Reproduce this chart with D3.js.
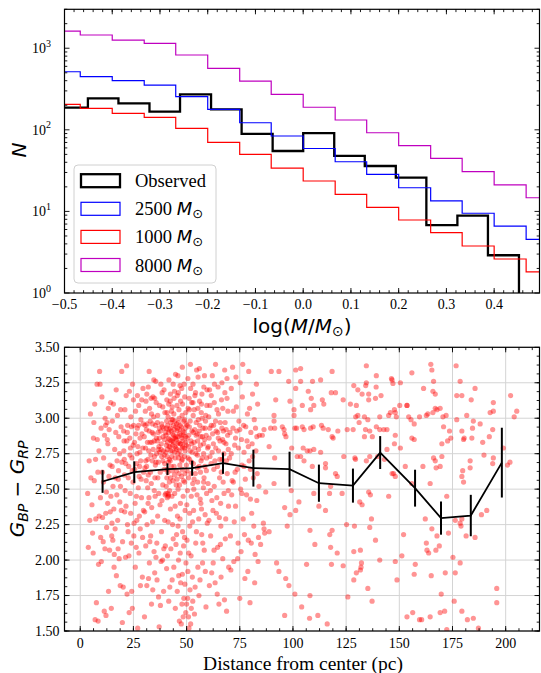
<!DOCTYPE html>
<html>
<head>
<meta charset="utf-8">
<script src="https://cdn.jsdelivr.net/npm/d3@7"></script>
<style>
  body { margin: 0; background: #fff; }
  svg { display: block; }
</style>
</head>
<body>
<svg id="fig"></svg>
<script>
// ---- top panel: mass function histograms ----
const modelEdges = [-0.533,-0.467,-0.4,-0.333,-0.267,-0.2,-0.133,-0.067,0,0.067,0.133,0.2,0.267,0.333,0.4,0.467,0.533];
const obsEdges = [-0.516,-0.451,-0.387,-0.322,-0.258,-0.193,-0.129,-0.064,0.0,0.065,0.129,0.194,0.258,0.323,0.387,0.452];
const observed = [187,243,211,167,272,178,89,55,91,48,36,26,6.8,8.9,2.9];
const m2500 = [515,448,400,354,255,178,122,84,59,40.6,28.5,19.5,13.5,9.5,6.6,4.55];
const m1000 = [205,183,159,142,104,70,50,34,23.6,16.2,11.2,7.85,5.48,3.77,2.61,1.82];
const m8000 = [1625,1452,1260,1150,826,567,396,272,189,132,92,64,44.7,30.7,21.1,14.7];
const histTicks = [-0.5,-0.4,-0.3,-0.2,-0.1,0.0,0.1,0.2,0.3,0.4];
const histTickLabels = ['\u22120.5','\u22120.4','\u22120.3','\u22120.2','\u22120.1','0.0','0.1','0.2','0.3','0.4'];
const logTicks = [1,10,100,1000];

// ---- bottom panel: colour vs distance ----
const binDist = [10.5,25.4,41.0,52.6,67.1,81.4,98.4,112.2,128.2,141.0,157.4,169.6,183.6,198.2];
const binColor = [2.554,2.62,2.641,2.648,2.683,2.648,2.641,2.542,2.525,2.758,2.507,2.296,2.314,2.687];
const binErr = [0.08,0.076,0.041,0.053,0.075,0.13,0.123,0.131,0.12,0.116,0.13,0.117,0.146,0.246];
const distTicks = [0,25,50,75,100,125,150,175,200];
const colorTicks = [1.5,1.75,2.0,2.25,2.5,2.75,3.0,3.25,3.5];

// stars, [distance pc, G_BP - G_RP]
const starsNear = [
[3.5,2.47],[4.2,2.70],[4.8,3.03],[5.5,2.39],[5.8,2.19],[6.1,2.05],[6.4,2.97],[6.8,3.10],[7.0,1.58],[7.3,2.29],[7.6,1.70],[8.0,2.85],[8.3,2.62],[8.6,1.97],[8.9,2.31],[9.1,3.33],[9.3,3.24],[9.6,2.16],[9.9,1.99],[5.0,2.58],[3.8,2.09],[6.6,2.56],[7.9,3.24],[8.8,2.77],[9.5,2.44],[4.5,2.28],[7.2,2.71],[9.8,2.93],[6.2,2.86],[8.4,1.57],
[10.2,3.15],[10.5,2.30],[10.8,2.13],[11.0,2.72],[11.3,1.64],[11.6,2.08],[11.9,2.95],[12.1,1.61],[12.4,2.23],[12.7,2.85],[12.9,2.40],[13.2,3.07],[13.5,2.59],[13.8,2.07],[14.0,2.67],[14.3,3.11],[14.6,1.66],[14.8,2.17],[15.1,2.98],[15.4,2.52],[15.6,3.10],[15.9,1.95],[16.2,2.78],[16.4,2.22],[16.7,2.90],[17.0,1.89],[17.2,2.46],[17.5,3.02],[17.8,2.08],[18.0,2.63],[18.3,2.01],[18.5,2.75],[18.8,1.82],[19.0,3.06],[19.3,2.35],[19.5,3.33],[19.8,1.56],[10.9,2.55],[11.7,3.00],[12.3,2.48],[13.0,2.82],[13.6,2.92],[14.4,2.45],[15.0,2.66],[15.8,2.36],[16.5,2.58],[17.3,2.70],[18.1,2.87],[18.9,2.52],[19.6,2.69],[10.4,2.62],[12.0,2.33],[14.9,2.26],[16.0,2.04],[17.6,2.28],[19.2,2.94],[11.4,2.88],[13.3,1.78],[15.3,2.14],[16.9,3.20],[18.6,2.41],[12.6,2.97],[17.9,2.57],[19.9,2.13],[14.1,2.34],
[20.2,1.81],[20.5,2.77],[20.8,2.60],[21.0,3.06],[21.3,2.02],[21.5,2.38],[21.8,3.37],[22.0,1.76],[22.3,2.95],[22.5,2.20],[22.8,2.66],[23.0,1.63],[23.3,2.86],[23.5,2.47],[23.8,3.01],[24.0,2.12],[24.3,2.72],[24.5,1.66],[24.8,2.55],[25.0,3.13],[25.3,2.26],[25.5,2.83],[25.8,2.40],[26.0,3.05],[26.3,2.09],[26.5,2.68],[26.8,2.93],[27.0,1.52],[27.3,2.51],[27.5,3.09],[27.8,2.31],[28.0,2.76],[28.3,1.82],[28.5,2.99],[28.8,2.44],[29.0,2.89],[29.3,2.16],[29.5,3.21],[29.8,2.62],[20.4,2.91],[21.1,2.49],[21.9,2.84],[22.6,2.58],[23.4,2.74],[24.1,2.94],[24.9,2.81],[25.6,2.64],[26.2,2.89],[27.1,2.80],[27.9,2.66],[28.6,2.57],[29.4,2.79],[20.9,2.34],[22.2,2.25],[23.7,2.33],[25.2,2.17],[26.6,2.28],[28.2,2.22],[29.7,2.35],[21.6,3.16],[23.1,3.19],[24.6,3.24],[26.9,3.16],[28.9,3.13],[22.9,2.03],[25.9,1.95],[27.6,2.05],[29.2,1.88],[24.2,1.78],[26.4,2.45],[28.4,2.70],[20.7,2.71],[27.4,2.95],
[20.6,2.84],[22.1,2.90],[23.6,2.79],[25.1,2.95],[26.7,2.75],[28.1,2.86],[29.6,2.96],[21.4,2.68],[24.4,2.63],[27.7,2.59],
[30.1,2.87],[30.3,2.34],[30.6,3.05],[30.8,2.10],[31.0,2.56],[31.3,1.82],[31.5,2.96],[31.8,2.71],[32.0,3.22],[32.3,2.44],[32.5,1.98],[32.8,2.83],[33.0,2.62],[33.3,3.14],[33.5,1.69],[33.8,2.90],[34.0,2.27],[34.3,2.78],[34.5,3.01],[34.8,2.49],[35.0,1.91],[35.3,2.67],[35.5,3.26],[35.8,2.86],[36.0,2.12],[36.3,2.97],[36.5,2.58],[36.8,1.74],[37.0,2.80],[37.3,3.09],[37.5,2.39],[37.8,2.91],[38.0,1.99],[38.3,2.73],[38.5,3.18],[38.8,2.53],[39.0,2.87],[39.3,2.08],[39.5,2.64],[39.8,3.04],[30.4,2.65],[31.1,2.92],[31.7,2.51],[32.2,2.77],[32.9,2.98],[33.4,2.54],[33.9,2.70],[34.4,2.89],[34.9,2.73],[35.4,2.95],[35.9,2.75],[36.2,2.84],[36.7,2.69],[37.2,2.93],[37.6,2.62],[38.1,2.82],[38.6,2.94],[39.1,2.77],[39.6,2.85],[30.9,3.12],[32.6,3.07],[34.2,3.15],[35.7,3.11],[37.9,3.24],[39.4,3.20],[31.4,2.25],[33.1,2.17],[34.7,2.06],[36.4,2.31],[38.2,2.20],[39.7,2.28],[30.2,1.60],[32.1,1.87],[34.1,1.79],[36.1,1.86],[37.7,1.68],[39.2,1.78],[31.9,2.40],[33.6,2.37],[35.2,2.45],[36.9,2.47],[38.4,2.42],[39.9,2.46],[30.7,2.79],[33.7,2.83],[36.6,2.90],[38.9,2.70],[31.2,2.66],[35.1,2.58],[37.4,2.76],[39.3,2.93],[32.4,3.33],[34.6,3.27],[37.1,1.53],[38.7,2.00],[35.6,2.02],[32.7,2.13],
[30.5,2.95],[31.6,2.83],[32.4,2.91],[33.2,2.74],[34.0,2.96],[34.8,2.84],[35.6,2.69],[36.4,3.02],[37.2,2.86],[38.0,2.78],[38.8,3.08],[39.5,2.74],[30.8,2.70],[32.0,2.60],[33.5,3.03],[35.0,3.14],[36.8,2.78],[38.3,2.96],[39.7,2.68],[31.3,3.17],
[40.1,2.90],[40.3,2.47],[40.5,2.81],[40.7,3.13],[40.9,2.64],[41.1,2.95],[41.3,2.27],[41.5,2.86],[41.7,3.27],[41.9,2.71],[42.1,1.81],[42.3,2.93],[42.5,2.58],[42.7,2.84],[42.9,3.05],[43.1,2.45],[43.3,2.77],[43.5,2.99],[43.7,2.15],[43.9,2.88],[44.1,2.66],[44.3,3.19],[44.5,2.80],[44.7,1.66],[44.9,2.94],[45.1,2.53],[45.3,2.85],[45.5,3.09],[45.7,2.31],[45.9,2.75],[46.1,2.97],[46.3,1.89],[46.5,2.61],[46.7,2.89],[46.9,3.23],[47.1,2.40],[47.3,2.82],[47.5,1.55],[47.7,2.70],[47.9,3.02],[48.1,2.20],[48.3,2.91],[48.5,2.56],[48.7,1.73],[48.9,2.79],[49.1,3.15],[49.3,2.35],[49.5,2.87],[49.7,1.98],[49.9,2.67],
[40.2,2.76],[40.6,2.98],[41.0,2.83],[41.4,2.69],[41.8,2.92],[42.2,2.80],[42.6,2.97],[43.0,2.73],[43.4,2.89],[43.8,2.83],[44.2,2.92],[44.6,2.72],[45.0,2.87],[45.4,2.78],[45.8,2.93],[46.2,2.83],[46.6,2.77],[47.0,2.95],[47.4,2.74],[47.8,2.86],[48.2,2.80],[48.6,2.98],[49.0,2.73],[49.4,2.93],[49.8,2.81],
[40.4,2.52],[41.2,2.62],[42.0,2.49],[42.8,2.66],[43.6,2.56],[44.4,2.47],[45.2,2.63],[46.0,2.50],[46.8,2.67],[47.6,2.59],[48.4,2.45],[49.2,2.61],
[40.8,3.04],[41.6,3.10],[42.4,3.17],[43.2,3.08],[44.0,3.03],[44.8,3.31],[45.6,3.16],[46.4,3.06],[47.2,3.12],[48.0,3.36],[48.8,3.24],[49.6,3.04],
[40.0,2.10],[41.0,2.03],[42.4,2.36],[43.4,2.25],[44.0,1.95],[45.0,2.11],[46.0,2.24],[47.0,2.05],[48.0,1.90],[49.0,2.16],[49.6,1.63],[41.6,1.71],[43.2,1.86],[45.6,1.78],[47.2,1.84],[48.4,1.60],[46.6,1.57],[42.6,2.08],[44.6,2.38],[40.6,1.94],
[41.4,2.45],[41.5,2.46],[41.2,2.47],[40.9,2.44],
[40.3,2.88],[40.8,2.73],[41.3,3.01],[41.8,2.80],[42.3,2.70],[42.8,2.91],[43.3,2.84],[43.8,2.95],[44.3,2.76],[44.8,2.86],[45.3,2.96],[45.8,2.82],[46.3,2.72],[46.8,2.92],[47.3,2.88],[47.8,2.79],[48.3,2.84],[48.8,2.90],[49.3,2.77],[49.8,2.96],
[40.5,2.93],[41.0,2.78],[41.5,2.90],[42.0,2.85],[42.5,2.77],[43.0,2.99],[43.5,2.81],[44.0,2.86],[44.5,2.98],[45.0,2.79],[45.5,2.91],[46.0,2.87],[46.5,3.00],[47.0,2.82],[47.5,2.94],[48.0,2.71],[48.5,2.88],[49.0,2.99],[49.5,2.83],
[40.7,2.58],[41.9,2.55],[43.1,2.63],[44.3,2.60],[45.5,2.57],[46.7,2.53],[47.9,2.64],[49.1,2.55],[42.3,3.12],[44.1,3.14],[46.1,3.18],[48.1,3.10],[43.7,3.24],[45.9,3.30],[47.7,3.21],
[45.3,2.18],[46.9,2.29],[48.6,2.10],[50.2,2.14],[51.4,2.33],[49.2,1.83],[47.8,1.69],[50.6,1.92],[52.2,1.66],[46.2,2.00],
[50.1,2.39],[50.3,2.86],[50.5,1.73],[50.7,3.07],[50.9,2.58],[51.1,1.52],[51.3,2.94],[51.5,2.24],[51.7,2.77],[51.9,3.21],[52.1,2.03],[52.3,2.69],[52.5,2.91],[52.7,1.88],[52.9,2.54],[53.1,3.02],[53.3,2.35],[53.5,2.83],[53.7,1.62],[53.9,3.16],[54.1,2.61],[54.3,2.12],[54.5,2.88],[54.7,3.34],[54.9,2.46],[55.1,2.74],[55.3,1.95],[55.5,2.99],[55.7,2.29],[55.9,2.66],[56.1,3.12],[56.3,1.86],[56.5,2.81],[56.7,2.40],[56.9,3.04],[57.1,2.18],[57.3,2.72],[57.5,1.98],[57.7,2.93],[57.9,2.51],[58.1,3.22],[58.3,2.07],[58.5,2.85],[58.7,2.32],[58.9,2.98],[59.1,1.67],[59.3,2.63],[59.5,3.09],[59.7,2.26],[59.9,2.79],
[50.2,2.63],[50.8,2.80],[51.4,2.71],[52.0,2.84],[52.6,2.76],[53.2,2.68],[53.8,2.92],[54.4,2.75],[55.0,2.89],[55.6,2.78],[56.2,2.95],[56.8,2.70],[57.4,2.87],[58.0,2.75],[58.6,2.66],[59.2,2.88],
[50.4,2.49],[51.0,2.05],[51.6,1.79],[52.2,2.45],[52.8,2.27],[53.4,2.50],[54.0,1.81],[54.6,2.20],[55.2,2.55],[55.8,1.75],[56.4,2.43],[57.0,2.36],[57.6,2.12],[58.2,2.58],[58.8,1.92],[59.4,2.47],
[50.6,3.28],[51.2,3.14],[51.8,3.38],[52.4,3.11],[53.0,3.24],[53.6,3.06],[54.2,3.18],[55.4,3.29],[56.0,3.35],[57.2,3.17],[58.4,3.30],[59.6,3.20],[50.0,1.69],[50.9,1.60],[51.9,1.55],[52.9,1.71],
[50.3,2.95],[51.0,2.88],[51.7,2.98],[52.4,2.82],[53.1,2.90],[53.8,2.79],[54.5,2.97],[55.2,2.84],[55.9,2.91],[56.6,2.87],[57.3,3.00],[58.0,2.82],[58.7,2.93],[59.4,2.72],[50.7,2.72],[52.0,2.61],[53.5,2.57],[55.0,2.65],[56.5,2.62],[58.0,2.55],[51.3,3.06],[53.0,3.11],[55.3,3.07],[57.0,3.10],[59.0,3.02],
[60.1,2.54],[60.4,3.01],[60.7,1.82],[61.0,2.73],[61.3,2.17],[61.6,3.16],[61.9,2.42],[62.2,2.89],[62.5,1.98],[62.8,2.64],[63.1,3.24],[63.4,1.84],[63.7,2.79],[64.0,2.33],[64.3,3.06],[64.6,2.09],[64.9,2.86],[65.2,1.69],[65.5,2.58],[65.8,2.97],[66.1,2.24],[66.4,3.13],[66.7,2.71],[67.0,2.01],[67.3,2.91],[67.6,2.47],[67.9,3.34],[68.2,2.15],[68.5,2.82],[68.8,1.64],[69.1,2.61],[69.4,3.05],[69.7,2.38],
[60.2,2.80],[60.9,2.93],[61.5,2.68],[62.0,2.76],[62.7,2.95],[63.3,2.70],[63.9,2.91],[64.5,2.66],[65.0,2.77],[65.7,2.84],[66.3,2.62],[66.9,2.85],[67.5,2.75],[68.1,2.97],[68.7,2.70],[69.3,2.88],
[60.5,2.28],[61.2,2.49],[62.4,2.35],[63.0,2.52],[64.2,2.44],[65.4,2.30],[66.0,2.40],[67.2,2.55],[68.4,2.29],[69.6,2.49],
[60.8,3.20],[62.1,3.30],[63.6,3.38],[64.8,3.22],[66.6,3.25],[68.0,3.18],[69.0,3.28],[61.8,1.91],[64.4,1.76],[66.2,1.88],[67.8,1.72],[69.8,1.95],[62.9,2.07],[65.9,2.11],
[60.6,2.86],[61.6,2.95],[62.6,2.82],[63.6,2.98],[64.6,2.90],[65.6,2.71],[66.6,2.93],[67.6,2.83],[68.6,2.92],[69.6,2.78],[61.0,3.09],[63.0,3.11],[65.0,3.03],[67.0,3.07],[69.0,3.14],
[70.2,2.72],[70.6,2.17],[71.0,3.21],[71.4,2.56],[71.8,2.93],[72.2,1.99],[72.6,2.81],[73.0,2.38],[73.4,3.08],[73.8,2.64],[74.2,2.12],[74.6,2.98],[75.0,1.73],[75.4,2.50],[75.8,2.85],[76.2,3.15],[76.6,2.29],[77.0,2.76],[77.4,1.87],[77.8,2.94],[78.2,2.46],[78.6,3.03],[79.0,2.14],[79.4,2.70],[79.8,1.70],[80.2,2.90],[80.6,2.33],[81.0,3.17],[81.4,2.58],[81.8,2.99],[82.2,2.04],[82.6,2.77],[83.0,2.42],[83.4,3.10],[83.8,2.16],[84.2,2.88],
[70.4,2.90],[71.2,2.46],[72.0,3.05],[72.8,2.62],[73.6,2.91],[74.4,2.79],[75.2,3.25],[76.0,2.67],[76.8,2.95],[77.6,2.57],[78.4,2.84],[79.2,3.33],[80.0,2.64],[80.8,2.82],[81.6,2.24],[82.4,2.93],[83.2,2.61],[84.0,2.52],
[70.8,1.93],[72.4,2.27],[74.0,2.01],[75.6,2.06],[77.2,2.18],[78.8,1.92],[80.4,2.12],[82.0,1.84],[83.6,1.99],[71.6,3.36],[73.2,3.29],[76.4,3.38],[79.6,3.07],[82.8,3.24],
[71.0,2.75],[73.0,2.86],[75.0,2.92],[77.0,2.66],[79.0,2.80],[81.0,2.73],[83.0,2.87],[72.0,2.55],[76.0,2.47],[80.0,2.43]
];
const starsFar = [
[134.5,3.37],[89.8,3.33],[93.4,3.33],[101.3,3.34],[103.6,3.35],[118.4,3.33],[164.8,3.38],[165.3,3.34],[176.7,3.37],[155.9,3.32],[98,3.26],[103.6,3.26],[109.2,3.26],[113,3.27],[139.2,3.30],[146.3,3.28],[146.6,3.27],[147.0,3.245],[150.5,3.25],[166.1,3.26],[178.6,3.26],[128.6,3.23],[134.5,3.25],[134.2,3.23],[139.1,3.22],[130.5,3.20],[101.3,3.21],[132.5,3.17],[135.6,3.17],[138.8,3.14],[141.4,3.16],[135.6,3.13],[153.6,3.09],[161.4,3.21],[165.8,3.19],[166.9,3.17],[185.6,3.21],[177,3.16],[179.4,3.16],[183.8,3.13],[194.2,3.11],[202.3,3.16],[205.2,3.05],[204,3.01],
[107.2,3.19],[91.9,3.13],[98.6,3.12],[108.6,3.14],[113.8,3.13],[114.5,3.10],[118,3.18],[120,3.18],[123.6,3.13],[127,3.10],[129.8,3.09],[109.8,3.09],[108.3,3.06],[104.4,3.09],[100.5,3.06],[100.5,3.02],[91.1,3.02],[91.1,2.98],[89.5,2.93],[86.4,2.92],[85.6,2.88],[91.4,2.93],[95,2.94],[95.8,2.92],[96.1,2.89],[96.7,2.87],[100.9,2.93],[101.7,2.93],[104.4,2.94],[105.2,2.92],[108.3,2.93],[109.5,2.94],[113.4,2.95],[114.2,2.93],[116.6,2.92],[118.4,2.87],[118.9,2.86],[121.1,2.91],[125.5,2.92],[128.3,2.92],[130.5,3.02],[129.5,3.01],[131.1,2.97],[133.6,3.01],[135.2,2.99],[134.1,2.92],[136.1,2.91],[133.6,2.87],[137.3,2.87],[139.2,2.94],[140.8,2.92],[140.8,3.01],[142.7,2.92],[144.2,2.92],[145,3.02],[145.8,3.04],[147.7,3.06],[148.1,3.04],[148.6,3.01],[150.2,3.09],[153.6,3.09],[154.4,3.01],[155.5,2.99],[157,2.96],[159.5,3.01],[162.7,3.02],[163.4,3.03],[165.8,3.04],[166.9,3.07],[167.7,3.06],[169.2,3.07],[170.5,3.01],[172,3.02],[170.8,2.94],[173.6,2.91],[172.7,2.84],[174.2,2.86],[177,2.99],[181.7,3.02],[184.8,2.98],[188,2.96],[192.7,3.04],[194.2,3.05],[193.9,2.92],[192.3,2.87],[189.2,2.83],[184.4,2.93],[179.4,2.91],[180.5,2.86],[184.1,2.86],[180.2,2.85],[170,2.82],
[88.8,2.80],[91.4,2.72],[99.4,2.79],[102,2.73],[103.6,2.73],[105.2,2.70],[106.7,2.77],[108,2.77],[104.8,2.79],[109.1,2.66],[109.8,2.78],[113,2.76],[115.3,2.68],[115.3,2.65],[120,2.61],[123.9,2.73],[129.1,2.72],[129.4,2.71],[134.5,2.70],[136.1,2.73],[139.8,2.73],[143,2.71],[144.2,2.78],[146.6,2.61],[147.7,2.82],[148.1,2.59],[148.1,2.88],[150.5,2.79],[152.8,2.66],[155.9,2.86],[157,2.85],[161.1,2.66],[166.1,2.72],[166.9,2.70],[167.3,2.65],[169.2,2.66],[170,2.73],[179.8,2.63],[179.4,2.59],[183.3,2.65],[183.3,2.70],[193.9,2.68],[194.2,2.72],[198.9,2.79],[202,2.69],[200.9,2.67],[87.2,2.48],[91.1,2.54],[99.2,2.49],[109.8,2.47],[117.7,2.52],[117.2,2.47],[123.1,2.47],[120.8,2.59],[135.6,2.48],[136.4,2.46],[145,2.45],[147.3,2.61],[155.9,2.54],[164.5,2.54],[172.3,2.45],[180.2,2.55],[189.8,2.74],
[86.1,2.26],[86.4,2.22],[86.7,2.19],[88.8,2.20],[84.8,2.11],[96.1,2.37],[98.6,2.32],[97.3,2.24],[101.3,2.35],[102.8,2.41],[112.2,2.38],[115.3,2.35],[108,2.21],[110.3,2.11],[117.3,2.18],[118.4,2.21],[117.7,2.09],[120.8,2.05],[125.2,2.25],[128.9,2.24],[131.4,2.41],[132.5,2.39],[136.9,2.29],[136.1,2.23],[138.8,2.14],[128.6,2.06],[131.7,2.07],[92.3,1.98],[93.4,1.92],[96.6,1.87],[98.1,1.82],[100.9,1.76],[106.4,1.97],[108,1.75],[104.1,1.67],[96.1,1.61],[107.8,1.59],[111.7,1.61],[116.1,1.55],[118.1,1.97],[123.6,1.96],[125.8,1.74],[128.6,1.86],[129.8,1.91],[131.7,1.93],[132,1.95],[132.2,1.98],[135.2,1.80],[137.2,1.71],[140.8,2.0],[148.1,1.99],[148.9,1.86],[152,2.18],[151.2,2.03],[157,1.90],[157.5,1.97],[153.6,1.60],[156.3,1.63],[159.5,1.58],[160.5,1.58],[164.5,1.60],[165,1.89],[162.2,2.29],[162.7,2.12],[163,2.07],[163.8,2.05],[165.3,2.22],[167.2,2.07],[167.7,2.17],[168.8,2.10],[169.2,1.63],[171.3,1.64],[171.6,1.91],[173.1,2.19],[175.2,2.02],[176.3,1.91],[175.8,1.71],[178.6,1.98],[179.4,1.64],[176.3,2.28],[178.6,2.26],[179.4,2.29],[179,2.24],[181.4,2.17],[182,1.58],[184.8,1.59],[185.6,2.16],[187.2,1.52],[188.6,2.32],[191.1,2.35],[195.8,1.80],[195.8,1.70],[169.7,1.76],[172.3,1.51]
];

const serif = '"Liberation Serif","Times New Roman",serif';
const sans = '"DejaVu Sans","Liberation Sans",sans-serif';

const svg = d3.select('#fig')
    .attr('width', 541)
    .attr('height', 673)
    .style('font-family', serif);

// draws inward ticks on all four sides plus the frame
function drawFrame(g, box, xscale, yscale, xMajor, xMinor, yMajor, yMinor) {
    const major = 5, minor = 2.8;
    const tk = g.append('g').attr('stroke', '#000').attr('stroke-width', 0.9);
    xMinor.forEach(v => {
        const x = xscale(v);
        tk.append('line').attr('x1', x).attr('x2', x).attr('y1', box.bottom).attr('y2', box.bottom - minor);
        tk.append('line').attr('x1', x).attr('x2', x).attr('y1', box.top).attr('y2', box.top + minor);
    });
    xMajor.forEach(v => {
        const x = xscale(v);
        tk.append('line').attr('x1', x).attr('x2', x).attr('y1', box.bottom).attr('y2', box.bottom - major);
        tk.append('line').attr('x1', x).attr('x2', x).attr('y1', box.top).attr('y2', box.top + major);
    });
    yMinor.forEach(v => {
        const y = yscale(v);
        tk.append('line').attr('y1', y).attr('y2', y).attr('x1', box.left).attr('x2', box.left + minor);
        tk.append('line').attr('y1', y).attr('y2', y).attr('x1', box.right).attr('x2', box.right - minor);
    });
    yMajor.forEach(v => {
        const y = yscale(v);
        tk.append('line').attr('y1', y).attr('y2', y).attr('x1', box.left).attr('x2', box.left + major);
        tk.append('line').attr('y1', y).attr('y2', y).attr('x1', box.right).attr('x2', box.right - major);
    });
    g.append('rect')
        .attr('x', box.left).attr('y', box.top)
        .attr('width', box.right - box.left).attr('height', box.bottom - box.top)
        .attr('fill', 'none').attr('stroke', '#000').attr('stroke-width', 1.2);
}

// ================= top panel =================
const topBox = {left: 64.5, right: 539.5, top: 9.3, bottom: 293};
const hx = d3.scaleLinear().domain([-0.5, 0.495]).range([topBox.left, topBox.right]);
const hy = d3.scaleLog().domain([1, 3000]).range([topBox.bottom, topBox.top]);

svg.append('clipPath').attr('id', 'clipTop')
    .append('rect').attr('x', topBox.left).attr('y', topBox.top)
    .attr('width', topBox.right - topBox.left).attr('height', topBox.bottom - topBox.top);

const hg = svg.append('g');
const histG = hg.append('g').attr('clip-path', 'url(#clipTop)');

function stepPoints(edges, vals) {
    const pts = [[edges[0], 0.3]];
    vals.forEach((v, i) => { pts.push([edges[i], v]); pts.push([edges[i + 1], v]); });
    pts.push([edges[edges.length - 1], 0.3]);
    return pts;
}
const stepLine = d3.line().x(d => hx(d[0])).y(d => hy(d[1]));

const histSeries = [
    {name: 'Observed', edges: obsEdges, vals: observed, color: '#000', width: 2.3},
    {name: '2500', edges: modelEdges, vals: m2500, color: '#0000ff', width: 1.2},
    {name: '1000', edges: modelEdges, vals: m1000, color: '#ff0000', width: 1.2},
    {name: '8000', edges: modelEdges, vals: m8000, color: '#bf00bf', width: 1.2}
];
histSeries.forEach(s => {
    histG.append('path')
        .attr('d', stepLine(stepPoints(s.edges, s.vals)))
        .attr('fill', 'none')
        .attr('stroke', s.color)
        .attr('stroke-width', s.width)
        .attr('stroke-linejoin', 'miter');
});

const logMinor = hy.ticks().filter(v => logTicks.indexOf(v) < 0);
drawFrame(hg, topBox, hx, hy, histTicks, d3.range(-0.5, 0.5, 0.02), logTicks, logMinor);

histTicks.forEach((v, i) => {
    hg.append('text')
        .attr('x', hx(v)).attr('y', 308.5)
        .attr('text-anchor', 'middle')
        .style('font-size', '14px')
        .text(histTickLabels[i]);
});
logTicks.forEach(v => {
    const t = hg.append('text')
        .attr('x', 51).attr('y', hy(v) + 5)
        .attr('text-anchor', 'end')
        .style('font-size', '14px');
    t.append('tspan').text('10');
    t.append('tspan').attr('dy', -6.5).style('font-size', '10px').text(Math.round(Math.log10(v)));
});

// axis labels
const xl = hg.append('text')
    .attr('x', 302).attr('y', 333)
    .attr('text-anchor', 'middle')
    .style('font-family', sans).style('font-size', '20px');
xl.append('tspan').text('log(');
xl.append('tspan').style('font-style', 'italic').text('M');
xl.append('tspan').text('/');
xl.append('tspan').style('font-style', 'italic').text('M');
xl.append('tspan').attr('dy', 3).style('font-size', '14px').text('\u2299');
xl.append('tspan').attr('dy', -3).text(')');

hg.append('text')
    .attr('transform', 'translate(26,150) rotate(-90)')
    .attr('text-anchor', 'middle')
    .style('font-family', sans).style('font-size', '20px').style('font-style', 'italic')
    .text('N');

// legend
const lg = hg.append('g');
lg.append('rect')
    .attr('x', 74).attr('y', 165).attr('width', 142).attr('height', 118)
    .attr('rx', 4)
    .attr('fill', '#fff').attr('fill-opacity', 0.8)
    .attr('stroke', '#d0d0d0').attr('stroke-width', 1);
histSeries.forEach((s, i) => {
    const cy = 180.7 + i * 28.1;
    lg.append('rect')
        .attr('x', 81).attr('y', cy - 6.5).attr('width', 39).attr('height', 13)
        .attr('fill', 'none').attr('stroke', s.color).attr('stroke-width', s.width);
    const t = lg.append('text').attr('x', 135).attr('y', cy + 6.5).style('font-size', '18.5px');
    if (i === 0) {
        t.text(s.name);
    } else {
        t.append('tspan').text(s.name + ' ');
        t.append('tspan').style('font-family', sans).style('font-style', 'italic').style('font-size', '18px').text('M');
        t.append('tspan').attr('dy', 3).style('font-family', sans).style('font-size', '13px').text('\u2299');
    }
});

// ================= bottom panel =================
const botBox = {left: 64.5, right: 539.5, top: 347.3, bottom: 631};
const sx = d3.scaleLinear().domain([-7.4, 215.9]).range([botBox.left, botBox.right]);
const sy = d3.scaleLinear().domain([1.5, 3.5]).range([botBox.bottom, botBox.top]);

svg.append('clipPath').attr('id', 'clipBot')
    .append('rect').attr('x', botBox.left).attr('y', botBox.top)
    .attr('width', botBox.right - botBox.left).attr('height', botBox.bottom - botBox.top);

const sg = svg.append('g');

// grid
const grid = sg.append('g').attr('stroke', '#d4d4d4').attr('stroke-width', 1);
distTicks.forEach(v => {
    grid.append('line').attr('x1', sx(v)).attr('x2', sx(v)).attr('y1', botBox.top).attr('y2', botBox.bottom);
});
colorTicks.forEach(v => {
    grid.append('line').attr('y1', sy(v)).attr('y2', sy(v)).attr('x1', botBox.left).attr('x2', botBox.right);
});

const dots = sg.append('g').attr('clip-path', 'url(#clipBot)');
dots.selectAll('circle')
    .data(starsNear.concat(starsFar))
    .enter()
    .append('circle')
    .attr('cx', d => sx(d[0]))
    .attr('cy', d => sy(d[1]))
    .attr('r', 2.6)
    .attr('fill', '#ff0000')
    .attr('fill-opacity', 0.42);

// binned trend with error bars
const trend = binDist.map((d, i) => ({x: d, y: binColor[i], e: binErr[i]}));
sg.append('path')
    .attr('d', d3.line().x(d => sx(d.x)).y(d => sy(d.y))(trend))
    .attr('fill', 'none').attr('stroke', '#000').attr('stroke-width', 1.8);
sg.selectAll('line.err')
    .data(trend)
    .enter()
    .append('line')
    .attr('class', 'err')
    .attr('x1', d => sx(d.x)).attr('x2', d => sx(d.x))
    .attr('y1', d => sy(d.y - d.e)).attr('y2', d => sy(d.y + d.e))
    .attr('stroke', '#000').attr('stroke-width', 2);

drawFrame(sg, botBox, sx, sy, distTicks, d3.range(0, 215, 6.25), colorTicks, d3.range(1.5, 3.5, 0.0625));

distTicks.forEach(v => {
    sg.append('text')
        .attr('x', sx(v)).attr('y', 647.5)
        .attr('text-anchor', 'middle')
        .style('font-size', '14px')
        .text(v);
});
colorTicks.forEach(v => {
    sg.append('text')
        .attr('x', 59.5).attr('y', sy(v) + 4.7)
        .attr('text-anchor', 'end')
        .style('font-size', '14px')
        .text(v.toFixed(2));
});

sg.append('text')
    .attr('x', 303).attr('y', 669.5)
    .attr('text-anchor', 'middle')
    .style('font-size', '19.5px')
    .text('Distance from center (pc)');

const yl = sg.append('text')
    .attr('transform', 'translate(24,489) rotate(-90)')
    .attr('text-anchor', 'middle')
    .style('font-family', sans).style('font-size', '20px');
yl.append('tspan').style('font-style', 'italic').text('G');
yl.append('tspan').attr('dy', 4).style('font-style', 'italic').style('font-size', '14px').text('BP');
yl.append('tspan').attr('dy', -4).text(' \u2212 ');
yl.append('tspan').style('font-style', 'italic').text('G');
yl.append('tspan').attr('dy', 4).style('font-style', 'italic').style('font-size', '14px').text('RP');
</script>
</body>
</html>
